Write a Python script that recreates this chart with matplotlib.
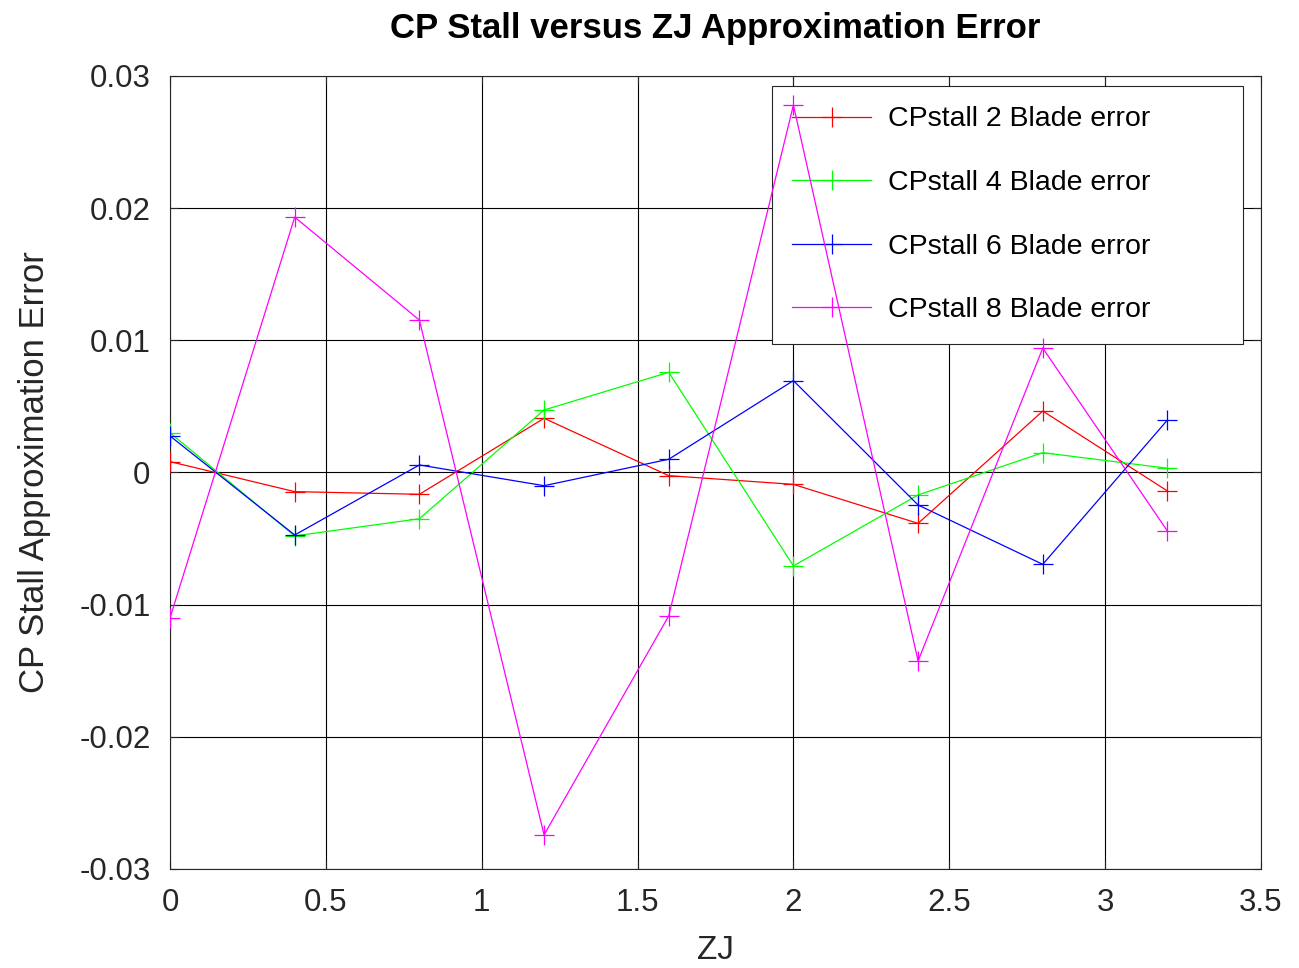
#!/usr/bin/env python3

import matplotlib as mpl
import matplotlib.pyplot as plt
from matplotlib.ticker import FuncFormatter

# ZJ sample points and approximation error per blade count
zj = [0.0, 0.4, 0.8, 1.2, 1.6, 2.0, 2.4, 2.8, 3.2]
err_2blade = [0.00082, -0.00145, -0.00165, 0.0041, -0.00024, -0.0009, -0.00385, 0.00465, -0.0014]
err_4blade = [0.0030, -0.0048, -0.0035, 0.00473, 0.00758, -0.00707, -0.0017, 0.0015, 0.00032]
err_6blade = [0.00276, -0.00473, 0.00057, -0.0010, 0.0010, 0.00695, -0.00246, -0.00695, 0.00397]
err_8blade = [-0.0110, 0.01932, 0.01153, -0.02742, -0.01085, 0.0278, -0.01426, 0.00941, -0.00443]

labels = ["CPstall 2 Blade error", "CPstall 4 Blade error",
          "CPstall 6 Blade error", "CPstall 8 Blade error"]
colors = ["#ff0000", "#00ff00", "#0000ff", "#ff00ff"]


def main():
    mpl.rcParams["font.family"] = ["Liberation Sans", "DejaVu Sans"]
    mpl.rcParams["axes.unicode_minus"] = False

    fig = plt.figure(figsize=(12.99, 9.68), dpi=100)
    ax = fig.add_axes([0.1309, 0.1023, 0.8398, 0.8192])

    for ys, lab, col in zip([err_2blade, err_4blade, err_6blade, err_8blade], labels, colors):
        ax.plot(zj, ys, color=col, lw=0.9, marker="+", ms=14, mew=0.9,
                label=lab, zorder=3)

    ax.set_xlim(0, 3.5)
    ax.set_ylim(-0.03, 0.03)
    ax.set_xticks([0, 0.5, 1, 1.5, 2, 2.5, 3, 3.5])
    ax.set_yticks([-0.03, -0.02, -0.01, 0, 0.01, 0.02, 0.03])
    fmt = FuncFormatter(lambda v, p: "%g" % round(v, 4))
    ax.xaxis.set_major_formatter(fmt)
    ax.yaxis.set_major_formatter(fmt)
    ax.tick_params(direction="in", top=True, right=True, labelsize=22.5,
                   length=6, width=0.8, pad=14, colors="#262626")
    ax.grid(True, color="black", lw=0.8, zorder=1)
    ax.set_axisbelow(True)
    for s in ax.spines.values():
        s.set_color("#262626")
        s.set_linewidth(0.8)

    ax.set_xlabel("ZJ", fontsize=24, color="#262626", labelpad=12)
    ax.set_ylabel("CP Stall Approximation Error", fontsize=25, color="#262626", labelpad=20)
    ax.set_title("CP Stall versus ZJ Approximation Error", fontsize=25,
                 fontweight="bold", pad=27)

    # legend box stretched to a fixed width, sitting under the curves
    leg = ax.legend(loc="upper left", bbox_to_anchor=(0.5518, 0.6658, 0.4317, 0.3216),
                    mode="expand", borderaxespad=0, fontsize=20.5,
                    fancybox=False, framealpha=1, edgecolor="#262626",
                    handlelength=2.74, labelspacing=1.32, borderpad=0.72,
                    handletextpad=0.6)
    leg.get_frame().set_linewidth(0.8)
    leg.set_zorder(2.5)

    plt.savefig("out.png", dpi=100)


if __name__ == "__main__":
    main()
